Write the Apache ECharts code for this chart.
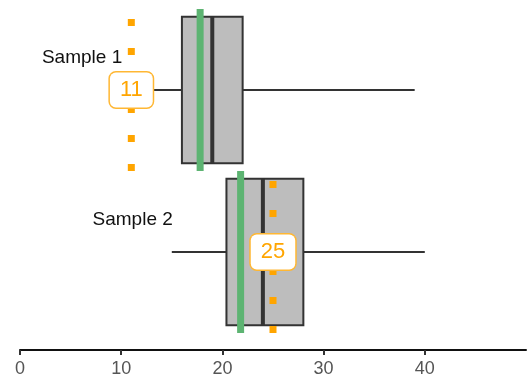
<!DOCTYPE html>
<html>
<head>
<meta charset="utf-8">
<script src="https://cdn.jsdelivr.net/npm/echarts@6/dist/echarts.min.js"></script>
<style>html,body{margin:0;padding:0;background:#fff;}#c{width:530px;height:385px;}</style>
</head>
<body>
<div id="c"></div>
<script>
var categories = ['Sample 1', 'Sample 2'];
var mins = [10, 15];
var q1s = [16, 20.4];
var medians = [19, 24];
var q3s = [22, 28];
var maxs = [39, 40];
var greenLines = [17.8, 21.8];
var orangeLines = [11, 25];
var xTicks = [0, 10, 20, 30, 40];

var boxData = categories.map(function (c, i) { return [i, mins[i], q1s[i], medians[i], q3s[i], maxs[i]]; });
var greenData = categories.map(function (c, i) { return [greenLines[i], i]; });
var orangeData = categories.map(function (c, i) { return [orangeLines[i], i]; });
var nameData = categories.map(function (c, i) { return [mins[i], i, c]; });

var chart = echarts.init(document.getElementById('c'), null, { renderer: 'canvas' });
chart.setOption({
  animation: false,
  grid: { left: 20, right: 4, top: 9, bottom: 52 },
  xAxis: {
    type: 'value', min: 0, max: 50, interval: 10, offset: 17,
    splitLine: { show: false },
    axisLine: { show: true, lineStyle: { color: '#111', width: 2 } },
    axisTick: { show: true, length: 5, lineStyle: { color: '#333', width: 2 }, customValues: xTicks },
    axisLabel: { color: '#555', fontSize: 18, margin: 10, fontFamily: 'Liberation Sans, Arial, sans-serif', customValues: xTicks }
  },
  yAxis: {
    type: 'category', data: categories, inverse: true,
    axisLine: { show: false }, axisTick: { show: false }, axisLabel: { show: false }, splitLine: { show: false }
  },
  series: [
    {
      type: 'custom', data: boxData, z: 2,
      encode: { x: [1, 2, 3, 4, 5], y: 0 },
      renderItem: function (params, api) {
        var cat = api.value(0);
        var pMin = api.coord([api.value(1), cat]);
        var pQ1 = api.coord([api.value(2), cat]);
        var pMed = api.coord([api.value(3), cat]);
        var pQ3 = api.coord([api.value(4), cat]);
        var pMax = api.coord([api.value(5), cat]);
        var band = api.size([0, 1])[1];
        var h = band * 0.905;
        var cy = pMin[1];
        var st = { stroke: '#333', lineWidth: 2 };
        return {
          type: 'group',
          children: [
            { type: 'line', shape: { x1: pMin[0], y1: cy, x2: pQ1[0], y2: cy }, style: st },
            { type: 'line', shape: { x1: pQ3[0], y1: cy, x2: pMax[0], y2: cy }, style: st },
            { type: 'rect', shape: { x: pQ1[0], y: cy - h / 2, width: pQ3[0] - pQ1[0], height: h }, style: { fill: '#bdbdbd', stroke: '#333', lineWidth: 2 } },
            { type: 'line', shape: { x1: pMed[0], y1: cy - h / 2, x2: pMed[0], y2: cy + h / 2 }, style: { stroke: '#333', lineWidth: 4 } }
          ]
        };
      }
    },
    {
      type: 'custom', data: greenData, z: 3,
      encode: { x: 0, y: 1 },
      renderItem: function (params, api) {
        var p = api.coord([api.value(0), api.value(1)]);
        var band = api.size([0, 1])[1];
        return { type: 'line', shape: { x1: p[0], y1: p[1] - band / 2, x2: p[0], y2: p[1] + band / 2 }, style: { stroke: '#5db472', lineWidth: 7 } };
      }
    },
    {
      type: 'custom', data: orangeData, z: 4,
      encode: { x: 0, y: 1 },
      renderItem: function (params, api) {
        var v = api.value(0);
        var p = api.coord([v, api.value(1)]);
        var band = api.size([0, 1])[1];
        return {
          type: 'group',
          children: [
            { type: 'line', shape: { x1: p[0], y1: p[1] - band / 2, x2: p[0], y2: p[1] + band / 2 },
              style: { stroke: '#ffa500', lineWidth: 7, lineDash: [7, 22], lineDashOffset: 19, lineCap: 'butt' } },
            { type: 'text', x: p[0], y: p[1],
              style: { text: String(v), fill: '#ffa500', fontSize: 22, fontFamily: 'Liberation Sans, Arial, sans-serif',
                align: 'center', verticalAlign: 'middle', lineHeight: 24,
                backgroundColor: '#fff', borderColor: '#ffb733', borderWidth: 1.5, borderRadius: 6, padding: [5, 10, 6, 10] } }
          ]
        };
      }
    },
    {
      type: 'custom', data: nameData, z: 5,
      encode: { x: 0, y: 1 },
      renderItem: function (params, api) {
        var p = api.coord([api.value(0), api.value(1)]);
        return { type: 'text', x: p[0] + 1, y: p[1] - 32,
          style: { text: categories[api.value(1)], fill: '#111', fontSize: 19, fontFamily: 'Liberation Sans, Arial, sans-serif', align: 'right', verticalAlign: 'middle' } };
      }
    }
  ]
});
</script>
</body>
</html>
